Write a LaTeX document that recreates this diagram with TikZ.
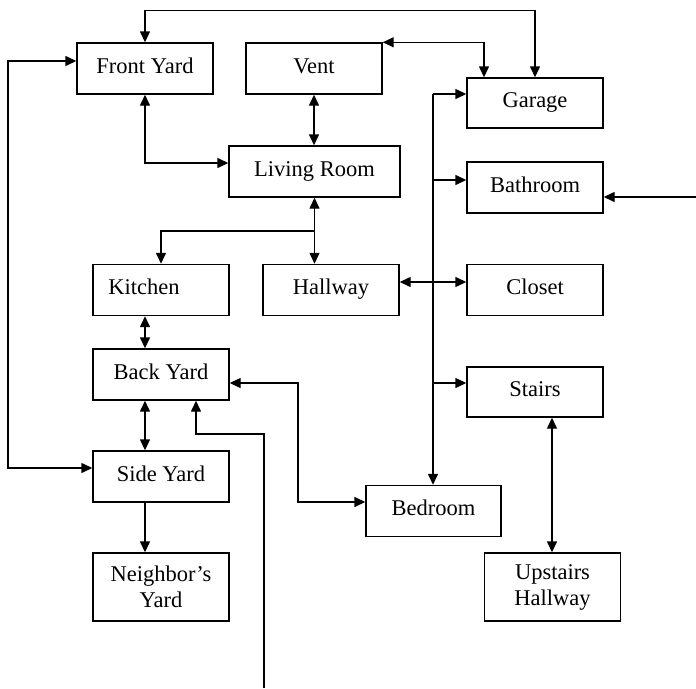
\documentclass[tikz,border=0pt]{standalone}
\usepackage{fontspec}
\setmainfont{Liberation Serif}
\usetikzlibrary{arrows.meta}
\begin{document}
\begin{tikzpicture}[x=1pt,y=-1pt,
  base/.style={draw, line width=1.4pt, minimum width=136pt, minimum height=51pt, inner sep=0pt, font=\fontsize{22.5}{26}\selectfont},
  box/.style={base, text height=16pt, text depth=7pt},
  twoline/.style={base, align=center, minimum height=68pt},
  link/.style={line width=1.4pt, >={Triangle[length=11pt,width=10pt]}},
  thinlink/.style={link, line width=0.9pt},
]
\useasboundingbox (0,0) rectangle (696,688);
% boxes
\node[box] (fy) at (145,68.5) {Front Yard};
\node[box] (vent) at (314,68.5) {Vent};
\node[box, minimum width=171pt] (lr) at (314.5,171.5) {Living Room};
\node[box, minimum height=50pt] (gar) at (535,103) {Garage};
\node[box] (bath) at (535,187.5) {Bathroom};
\node[box] (kit) at (161,290) {\hspace*{-34pt}Kitchen};
\node[box] (hall) at (331,290) {Hallway};
\node[box] (clo) at (535,290) {Closet};
\node[box] (back) at (161,374.5) {Back Yard};
\node[box] (side) at (161,476.5) {Side Yard};
\node[box, minimum height=50pt] (st) at (535,392) {Stairs};
\node[box, minimum width=135pt] (bed) at (433.5,511) {Bedroom};
\node[twoline] (nb) at (161,587) {Neighbor’s\\Yard};
\node[twoline, minimum width=136pt] (up) at (552.5,587) {Upstairs\\Hallway};
% helper coordinates
\coordinate (x1) at (145,0);
\coordinate (t1) at (145,10);
\coordinate (g2) at (484,0);
\coordinate (j1) at (314.5,231);
\coordinate (h0) at (433,94);
\coordinate (hb) at (433,180);
\coordinate (hs) at (433,383);
\coordinate (r8) at (696,197);
\coordinate (m1) at (298,383);
\coordinate (m2) at (298,502);
\coordinate (b1) at (264,688);
\coordinate (b2) at (196,434);
\coordinate (l1) at (8,61);
\coordinate (l2) at (8,468);
\coordinate (s1) at (552,0);
% connectors
\draw[link,->] (t1) -- (fy.north);
\draw[thinlink] (t1) -- (t1 -| gar.north);
\draw[link,->] (t1 -| gar.north) -- (gar.north);
\draw[link,<->] (vent.north east) -| (gar.north -| g2);
\draw[link,<->] (fy.south) |- ([yshift=8.5pt]lr.west);
\draw[link,<->] (vent.south) -- (vent.south |- lr.north);
\draw[link,<->] (lr.south) -- (lr.south |- hall.north);
\draw[link,->] (j1) -| (kit.north);
\draw[link,<->] ([yshift=8pt]hall.east) -- ([yshift=8pt]clo.west);
\draw[link,->] (h0) -- (h0 -| gar.west);
\draw[link,->] (h0) -- (h0 |- bed.north);
\draw[link,->] (hb) -- (hb -| bath.west);
\draw[link,->] (hs) -- (hs -| st.west);
\draw[link,->] (r8) -- (r8 -| bath.east);
\draw[link,<->] (kit.south -| x1) -- (back.north -| x1);
\draw[link,<->] (back.south -| x1) -- (side.north -| x1);
\draw[link,<->] (back.east |- m1) -- (m1) -- (m2) -- (bed.west |- m2);
\draw[link,->] (b1) |- (b2) -- (b2 |- back.south);
\draw[link,<->] (fy.west |- l1) -- (l1) -- (l2) -- (side.west |- l2);
\draw[link,->] (side.south -| x1) -- (nb.north -| x1);
\draw[link,<->] (st.south -| s1) -- (up.north -| s1);
\end{tikzpicture}
\end{document}
